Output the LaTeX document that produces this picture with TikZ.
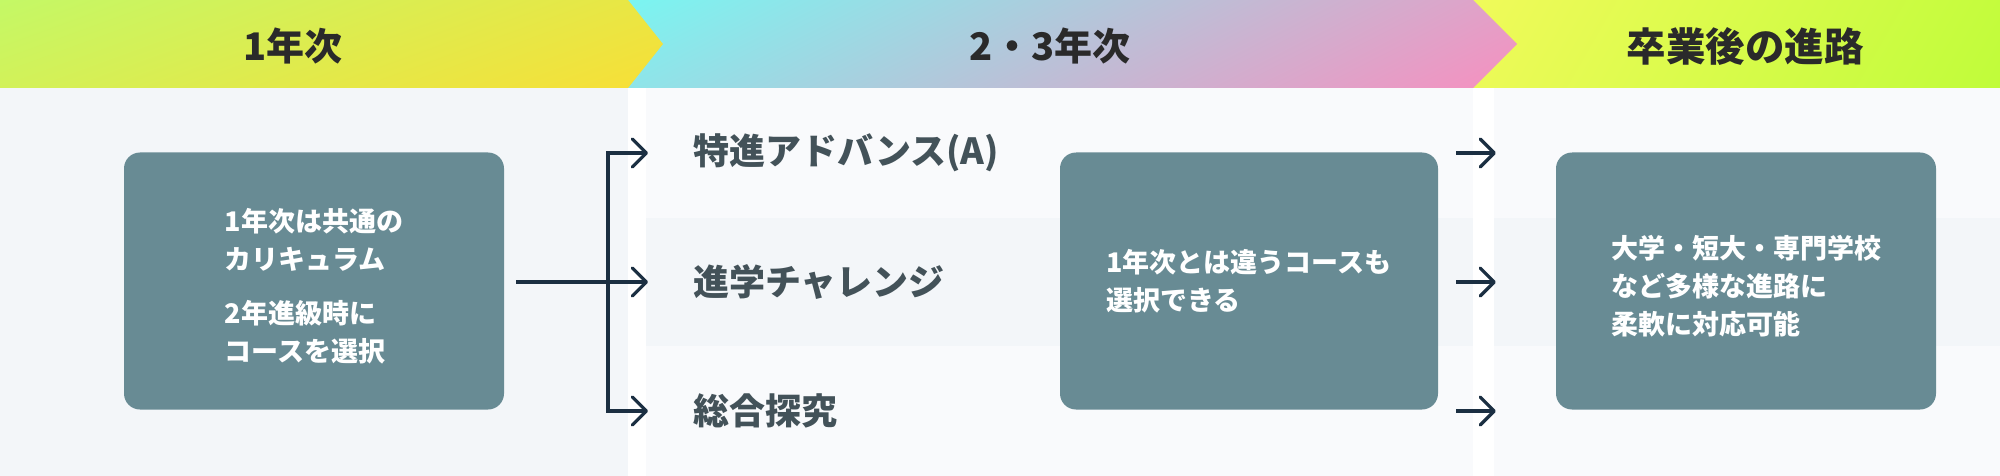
\documentclass[tikz,border=0pt]{standalone}
\usepackage{fontspec}
\newfontfamily\jp{Noto Sans CJK JP}
\usetikzlibrary{arrows.meta}
\definecolor{colL}{HTML}{F3F6F9}
\definecolor{colM}{HTML}{F9FAFC}
\definecolor{boxc}{HTML}{688B94}
\definecolor{navy}{HTML}{1B2F42}
\definecolor{labc}{HTML}{435259}
\definecolor{headc}{HTML}{2A2A2A}
\definecolor{limeA}{HTML}{C4F866}
\definecolor{yelA}{HTML}{F8DF36}
\definecolor{cyanB}{HTML}{7AF5F1}
\definecolor{pinkB}{HTML}{F78FBF}
\definecolor{yelC}{HTML}{F0FA5A}
\definecolor{limeC}{HTML}{C0FC3A}
\begin{document}
\begin{tikzpicture}[x=1pt,y=-1pt,
  box/.style={fill=boxc, rounded corners=16pt, inner sep=0pt},
  btext/.style={text=white, align=left, inner sep=0pt,
    font=\jp\bfseries\fontsize{27}{38}\selectfont},
  lab/.style={anchor=west, inner sep=0pt, text=labc, font=\jp\bfseries\fontsize{36}{40}\selectfont},
  head/.style={inner sep=0pt, text=headc, font=\jp\bfseries\fontsize{38}{40}\selectfont},
  conn/.style={draw=navy, line width=3.3pt},
  arr/.style={conn, -{Straight Barb[length=14pt,width=28pt,round]}}]
\useasboundingbox (0,0) rectangle (2000,476);
\fill[white] (0,0) rectangle (2000,476);
% column backgrounds
\fill[colL] (0,88) rectangle (628,476);
\fill[colM] (646,88) rectangle (1473,476);
\fill[colL] (646,218) rectangle (1473,346);
\fill[colM] (1494,88) rectangle (2000,476);
\fill[colL] (1494,218) rectangle (2000,346);
% headers (diagonal gradients)
\begin{scope}
  \clip (1473,0) -- (2000,0) -- (2000,88) -- (1473,88) -- cycle;
  \shade[left color=yelC, right color=limeC,
    transform canvas={shift={(1736.5,44)}, rotate=-30}]
    (-250.5,-180) rectangle (250.5,180);
\end{scope}
\begin{scope}
  \clip (628,0) -- (1473,0) -- (1517,44) -- (1473,88) -- (628,88) -- cycle;
  \shade[left color=cyanB, right color=pinkB,
    transform canvas={shift={(1072.5,44)}, rotate=-63}]
    (-241.5,-430) rectangle (241.5,430);
\end{scope}
\begin{scope}
  \clip (0,0) -- (628,0) -- (663,44) -- (628,88) -- (0,88) -- cycle;
  \shade[left color=limeA, right color=yelA,
    transform canvas={shift={(331.5,44)}, rotate=-70}]
    (-155,-340) rectangle (155,340);
\end{scope}
\node[head] (h1) at (293,46) {1年次};
\node[head] (h2) at (1050,46) {2・3年次};
\node[head, font=\jp\bfseries\fontsize{39.5}{40}\selectfont] (h3) at (1745,46) {卒業後の進路};
% boxes
\node[box, minimum width=380pt, minimum height=257pt] (b1) at (314,281) {};
\node[btext] (t1) at ([yshift=-5pt]b1.center)
  {1年次は共通の\\カリキュラム\\[16pt]2年進級時に\\コースを選択};
\node[box, minimum width=378pt, minimum height=257pt] (b2) at (1249,281) {};
\node[btext] (t2) at (b2.center) {1年次とは違うコースも\\選択できる};
\node[box, minimum width=380pt, minimum height=257pt] (b3) at (1746,281) {};
\node[btext] (t3) at ([yshift=-5pt]b3.center)
  {大学・短大・専門学校\\など多様な進路に\\柔軟に対応可能};
% labels
\node[lab] (l1) at (693,153) {特進アドバンス(A)};
\node[lab] (l2) at (693,282) {進学チャレンジ};
\node[lab] (l3) at (693,411) {総合探究};
% connectors
\coordinate (br) at (608,282);
\draw[conn] ([xshift=12pt]b1.east |- br) -- (br);
\draw[arr] (br |- l3.west) -- (br |- l1.west) -- ([xshift=-45pt]l1.west);
\draw[arr] (br |- l1.west) -- (br |- l3.west) -- ([xshift=-45pt]l3.west);
\draw[arr] (br) -- ([xshift=-45pt]l2.west);
\coordinate (r1) at ([xshift=18pt]b2.east |- l1.west);
\coordinate (r2) at ([xshift=18pt]b2.east |- l2.west);
\coordinate (r3) at ([xshift=18pt]b2.east |- l3.west);
\draw[arr] (r1) -- ([xshift=-60pt]b3.west |- r1);
\draw[arr] (r2) -- ([xshift=-60pt]b3.west |- r2);
\draw[arr] (r3) -- ([xshift=-60pt]b3.west |- r3);
\end{tikzpicture}
\end{document}
